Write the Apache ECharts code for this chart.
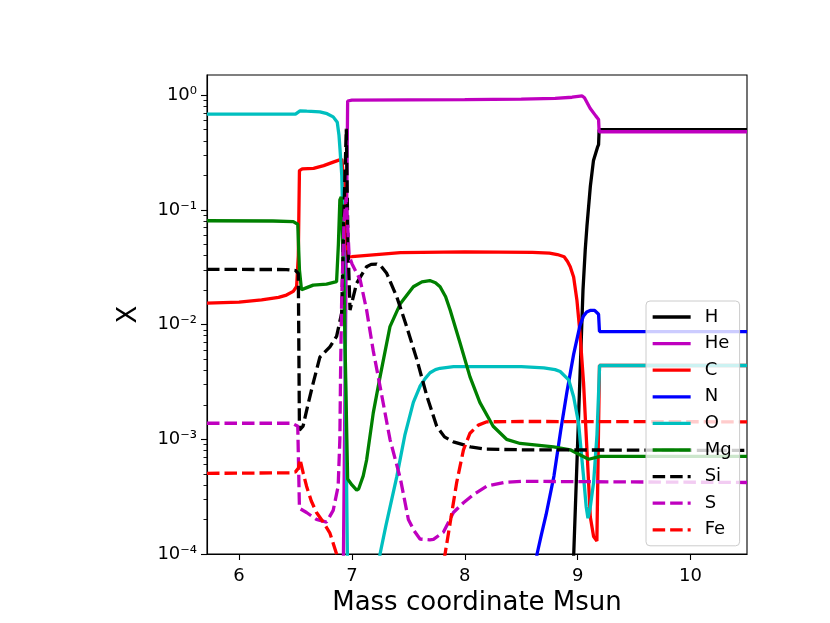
<!DOCTYPE html>
<html>
<head>
<meta charset="utf-8">
<script src="https://cdn.jsdelivr.net/npm/echarts@6/dist/echarts.min.js"></script>
<style>
  html, body { margin: 0; padding: 0; background: #fff; }
  #chart { width: 830px; height: 623px; }
</style>
</head>
<body>
<div id="chart"></div>
<script>
// abundance profiles, [mass coordinate (Msun), mass fraction X]
const elements = ['H', 'He', 'C', 'N', 'O', 'Mg', 'Si', 'S', 'Fe']

const H = [[8.95,6e-5],[8.965,1e-4],[9.0,0.00095],[9.03,0.0066],[9.047,0.02],[9.067,0.045],[9.082,0.072],
  [9.112,0.16],[9.14,0.27],[9.175,0.35],[9.185,0.37],[9.19,0.5],[10.5,0.5]]

const He = [[6.915,1e-6],[6.925,1e-4],[6.962,0.89],[7.0,0.905],[7.5,0.91],[8.0,0.915],[8.5,0.925],
  [8.8,0.94],[8.95,0.96],[9.04,0.985],[9.06,0.95],[9.11,0.77],[9.16,0.66],[9.185,0.615],[9.19,0.48],[10.5,0.48]]

const C = [[5.716,0.0154],[6.0,0.0157],[6.2,0.0164],[6.35,0.0173],[6.42,0.0181],[6.48,0.0195],[6.51,0.0215],
  [6.525,0.04],[6.535,0.22],[6.56,0.228],[6.66,0.23],[6.75,0.243],[6.84,0.262],[6.91,0.277],[6.935,0.15],
  [6.955,0.06],[6.965,0.039],[7.0,0.0392],[7.43,0.0424],[8.0,0.043],[8.6,0.0426],[8.75,0.042],[8.82,0.0408],
  [8.88,0.039],[8.91,0.0355],[8.934,0.032],[8.964,0.026],[8.993,0.0164],[9.02,0.0085],[9.052,0.0031],
  [9.082,0.00081],[9.112,0.00021],[9.141,0.000142],[9.17,0.00013],[9.187,0.000125],[9.193,0.0044],[10.5,0.0044]]

const N = [[8.62,7e-5],[8.64,1e-4],[8.68,0.00015],[8.72,0.00022],[8.79,0.00048],[8.85,0.0012],[8.905,0.0026],
  [8.964,0.0055],[9.02,0.0098],[9.05,0.0118],[9.08,0.0129],[9.11,0.0133],[9.15,0.0133],[9.185,0.0123],
  [9.193,0.0087],[10.5,0.0087]]

const O = [[5.716,0.683],[6.5,0.685],[6.515,0.7],[6.54,0.73],[6.6,0.725],[6.716,0.716],[6.78,0.69],
  [6.834,0.647],[6.87,0.58],[6.885,0.45],[6.895,0.33],[6.91,0.2],[6.93,0.03],[6.945,0.002],[6.96,9e-5],
  [6.97,1e-5],[7.2,1e-5],[7.225,6e-5],[7.249,1e-4],[7.3,0.000175],[7.397,0.00047],[7.47,0.0011],[7.544,0.0021],
  [7.603,0.0029],[7.65,0.0034],[7.692,0.0038],[7.74,0.00405],[7.781,0.00416],[7.9,0.0043],[8.5,0.0043],
  [8.7,0.0042],[8.8,0.00405],[8.845,0.0039],[8.92,0.0033],[8.964,0.00235],[9.008,0.00138],[9.052,0.00047],
  [9.075,0.00026],[9.091,0.000205],[9.11,0.00025],[9.141,0.00042],[9.171,0.0011],[9.185,0.0025],
  [9.194,0.0044],[10.5,0.0044]]

const Mg = [[5.716,0.0804],[6.3,0.08],[6.48,0.079],[6.52,0.075],[6.535,0.03],[6.553,0.0201],[6.6,0.021],
  [6.657,0.0221],[6.775,0.0225],[6.864,0.0237],[6.88,0.05],[6.893,0.122],[6.905,0.13],[6.93,0.02],
  [6.955,0.001],[6.962,0.00045],[7.0,0.0004],[7.042,0.00036],[7.06,0.00037],[7.1,0.00048],[7.13,0.00066],
  [7.189,0.0017],[7.249,0.0035],[7.337,0.0096],[7.43,0.0153],[7.544,0.0214],[7.62,0.0236],[7.69,0.0242],
  [7.74,0.0232],[7.781,0.0214],[7.83,0.0175],[7.87,0.0134],[7.958,0.0069],[8.046,0.0035],[8.133,0.0021],
  [8.251,0.0013],[8.37,0.001],[8.49,0.00092],[8.786,0.00086],[8.934,0.00081],[9.023,0.00073],
  [9.097,0.00067],[9.2,0.00071],[10.5,0.00071]]

const Si = [[5.716,0.0303],[6.42,0.0302],[6.5,0.0296],[6.525,0.028],[6.535,0.0012],[6.567,0.0013],
  [6.61,0.002],[6.657,0.0031],[6.716,0.0052],[6.805,0.0064],[6.864,0.0079],[6.909,0.0126],[6.93,0.1],
  [6.95,0.51],[6.965,0.05],[6.983,0.0134],[7.042,0.023],[7.13,0.032],[7.17,0.0335],[7.219,0.0337],
  [7.26,0.0322],[7.308,0.028],[7.397,0.0175],[7.485,0.0096],[7.574,0.005],[7.663,0.0024],[7.751,0.0013],
  [7.82,0.00105],[7.899,0.00095],[8.05,0.00086],[8.19,0.00082],[8.5,0.00081],[10.5,0.0008]]

const S = [[5.716,0.00138],[6.47,0.00138],[6.52,0.0013],[6.535,0.00025],[6.598,0.00023],[6.686,0.0002],
  [6.775,0.00019],[6.834,0.00024],[6.878,0.00039],[6.893,0.001],[6.9,0.0043],[6.909,0.0163],[6.93,0.08],
  [6.95,0.13],[6.975,0.04],[7.0,0.034],[7.073,0.0245],[7.13,0.0134],[7.189,0.0059],[7.249,0.0029],
  [7.337,0.001],[7.43,0.00045],[7.5,0.0002],[7.55,0.00016],[7.603,0.000135],[7.69,0.000133],[7.722,0.000134],
  [7.81,0.000155],[7.899,0.00023],[7.988,0.00028],[8.077,0.00033],[8.195,0.00039],[8.343,0.00042],
  [8.5,0.00043],[10.5,0.00042]]

const Fe = [[5.716,0.000505],[6.45,0.00051],[6.5,0.00052],[6.525,0.00056],[6.54,0.00067],[6.57,0.0005],
  [6.598,0.00039],[6.64,0.00029],[6.686,0.00023],[6.745,0.00019],[6.805,0.000152],[6.864,0.0001],
  [6.9,5e-5],[7.78,5e-5],[7.825,0.0001],[7.87,0.000186],[7.928,0.00042],[7.988,0.00081],[8.046,0.00113],
  [8.12,0.00133],[8.195,0.00142],[8.5,0.00143],[10.5,0.00142]]

const xTicks = [6, 7, 8, 9, 10]
const yMajor = [1e-4, 1e-3, 1e-2, 1e-1, 1]
const yMajorLabels = ['10⁻⁴', '10⁻³', '10⁻²', '10⁻¹', '10⁰']
const yMinor = [2e-4,3e-4,4e-4,5e-4,6e-4,7e-4,8e-4,9e-4,
  2e-3,3e-3,4e-3,5e-3,6e-3,7e-3,8e-3,9e-3,
  2e-2,3e-2,4e-2,5e-2,6e-2,7e-2,8e-2,9e-2,
  0.2,0.3,0.4,0.5,0.6,0.7,0.8,0.9]

const profiles = {H, He, C, N, O, Mg, Si, S, Fe}

// matplotlib style: k, m, r, b, c, g solid then k--, m--, r--
const lineColors = {H:'#000000', He:'#bf00bf', C:'#ff0000', N:'#0000ff', O:'#00bfbf',
  Mg:'#008000', Si:'#000000', S:'#bf00bf', Fe:'#ff0000'}
const dashed = {Si:true, S:true, Fe:true}

const font = 'DejaVu Sans'

function yLabel(v){
    let i = yMajor.findIndex(t => Math.abs(Math.log10(t) - Math.log10(v)) < 1e-6)
    return i >= 0 ? yMajorLabels[i] : ''
}

let chart = echarts.init(document.getElementById('chart'), null, {renderer: 'canvas'})

let series = elements.map(name => ({
    name: name,
    type: 'line',
    data: profiles[name],
    showSymbol: false,
    symbol: 'none',
    clip: true,
    animation: false,
    itemStyle: {color: lineColors[name]},
    lineStyle: {
        color: lineColors[name],
        width: 3.3,
        type: dashed[name] ? [12.5, 5] : 'solid'
    }
}))

let option = {
    backgroundColor: '#ffffff',
    animation: false,
    grid: {
        left: 207, right: 83, top: 75, bottom: 69,
        show: true, borderColor: '#000', borderWidth: 1.1,
        backgroundColor: 'transparent'
    },
    legend: {
        orient: 'vertical',
        left: 646, top: 301,
        itemWidth: 38, itemHeight: 14, itemGap: 8.6,
        backgroundColor: 'rgba(255,255,255,0.8)',
        borderColor: '#cccccc', borderWidth: 1, borderRadius: 4,
        padding: [7, 8, 7, 5],
        // hide the marker circle, keep the line sample
        itemStyle: {color: 'rgba(0,0,0,0)', borderColor: 'rgba(0,0,0,0)', borderWidth: 0, opacity: 0},
        lineStyle: {width: 3.3},
        textStyle: {fontSize: 18, color: '#000', fontFamily: font, padding: [0, 0, 0, 9]},
        data: elements
    },
    xAxis: {
        type: 'value',
        min: 5.716, max: 10.5,
        name: 'Mass coordinate Msun',
        nameLocation: 'middle',
        nameGap: 27,
        nameTextStyle: {fontSize: 26, color: '#000', fontFamily: font},
        axisLine: {show: true, onZero: false, lineStyle: {color: '#000', width: 1.1}},
        axisTick: {show: true, inside: false, length: 6, customValues: xTicks, lineStyle: {color: '#000', width: 1.1}},
        axisLabel: {customValues: xTicks, fontSize: 18, color: '#000', margin: 13, fontFamily: font},
        splitLine: {show: false}
    },
    yAxis: [
        {
            type: 'log', logBase: 10,
            min: 1e-4, max: 1.5,
            position: 'left',
            name: 'X',
            nameLocation: 'middle',
            nameGap: 65,
            nameTextStyle: {fontSize: 26, color: '#000', fontFamily: font},
            axisLine: {show: true, lineStyle: {color: '#000', width: 1.1}},
            axisTick: {show: true, inside: false, length: 6, customValues: yMajor, lineStyle: {color: '#000', width: 1.1}},
            axisLabel: {customValues: yMajor, formatter: yLabel, fontSize: 18, color: '#000', margin: 10, fontFamily: font},
            splitLine: {show: false},
            minorTick: {show: false}
        },
        {
            // minor ticks only (2..9 per decade)
            type: 'log', logBase: 10,
            min: 1e-4, max: 1.5,
            position: 'left', offset: 0,
            axisLine: {show: false},
            axisTick: {show: true, inside: false, length: 3.5, customValues: yMinor, lineStyle: {color: '#000', width: 0.9}},
            axisLabel: {show: false},
            splitLine: {show: false}
        }
    ],
    series: series
}

chart.setOption(option)
</script>
</body>
</html>
